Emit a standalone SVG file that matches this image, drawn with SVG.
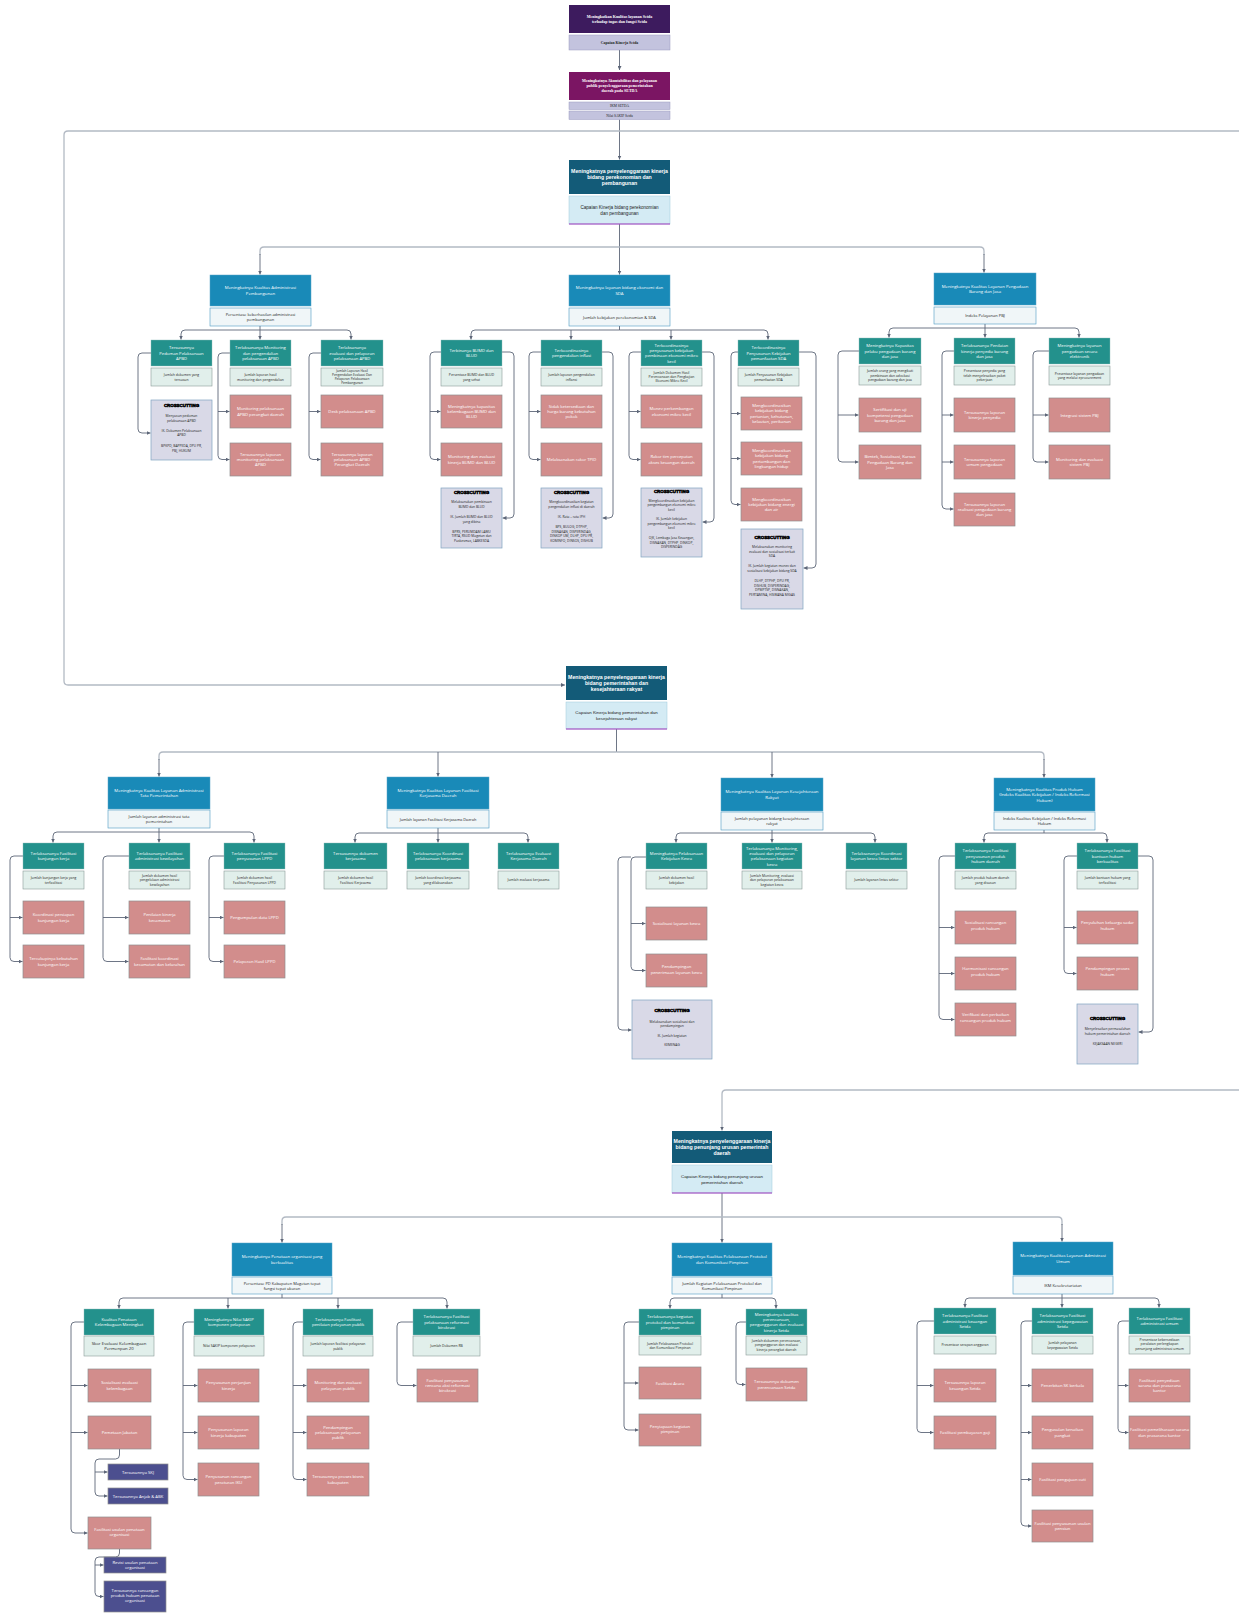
<svg xmlns="http://www.w3.org/2000/svg" width="1239" height="1623" viewBox="0 0 1239 1623">
<defs>
<marker id="ar" viewBox="0 0 6 6" refX="6" refY="3" markerWidth="4" markerHeight="4" markerUnits="userSpaceOnUse" orient="auto"><path d="M0,0 L6,3 L0,6 z" fill="#5d6678"/></marker>
<style>
.c{fill:none;stroke:#5d6678;stroke-width:0.9}
.cl{fill:none;stroke:#b3bac4;stroke-width:1.3}
.t1{fill:#3d1b5e}
.t2{fill:#7b1563}
.lav{fill:#c3c3de;stroke:#9a9ac0;stroke-width:0.5}
.m{fill:#135b78}
.ml{fill:#d4ebf4;stroke:#9ec9dc;stroke-width:0.5}
.pl{stroke:#a23bbd;stroke-width:1}
.l2{fill:#198ab8;stroke:#5aa5c8;stroke-width:0.5}
.l2l{fill:#f0f6f8;stroke:#4e9cc4;stroke-width:0.6}
.l3{fill:#23918c;stroke:#8fbcb9;stroke-width:0.4}
.l3l{fill:#e1efeb;stroke:#8a9a98;stroke-width:0.6}
.pk{fill:#d28d8c;stroke:#8f8f8f;stroke-width:0.7}
.cc{fill:#d9d9e7;stroke:#7fa3c0;stroke-width:0.7}
.ind{fill:#4c4f8f;stroke:#8f8f8f;stroke-width:0.7}
text{font-family:"Open Sans","Liberation Sans",sans-serif;text-anchor:middle}
.w{font-size:4.2px;fill:#fff}
.l2t{font-size:4.3px;fill:#fff}
.d{font-size:3.4px;fill:#1e1e1e}
.d2{font-size:4px;fill:#222}
.mb{font-family:"Liberation Sans",Arial,sans-serif;font-weight:bold;font-size:5.2px;fill:#fff}
.md{font-family:"Liberation Sans",Arial,sans-serif;font-size:4.6px;fill:#222}
.sb{font-family:"Liberation Serif",serif;font-weight:bold;font-size:4px;fill:#fff}
.sd{font-family:"Liberation Serif",serif;font-weight:bold;font-size:3.8px;fill:#222}
.ch{font-family:"Liberation Sans",Arial,sans-serif;font-weight:900;font-size:4.4px;fill:#000;stroke:#000;stroke-width:0.5}
.cd{font-size:3.3px;fill:#222}
.wi{font-size:4.2px;fill:#fff}
</style>
</defs>
<rect width="1239" height="1623" fill="#fff"/>

<g id="connectors">
<path class="c" d="M619.5 50 V70" marker-end="url(#ar)"/>
<path class="c" d="M619.5 119.5 V159.5" marker-end="url(#ar)"/>
<path class="cl" d="M1239 131 H68 Q64 131 64 135 V681 Q64 685 68 685 H565" marker-end="url(#ar)"/>
<path class="cl" d="M1239 1090 H726 Q722 1090 722 1094 V1130.5" marker-end="url(#ar)"/>
<!-- block 1 -->
<path class="c" d="M619.5 224 V274.5" marker-end="url(#ar)"/>
<path class="cl" d="M619.5 247 H264 Q260 247 260 251 V255"/>
<path class="cl" d="M619.5 247 H980 Q984 247 984 251 V255"/>
<path class="c" d="M260 254 V274.5" marker-end="url(#ar)"/>
<path class="c" d="M984 254 V272.5" marker-end="url(#ar)"/>
<path class="c" d="M260 326 V339.5" marker-end="url(#ar)"/>
<path class="c" d="M260 330 H185 Q181 330 181 334 V339.5" marker-end="url(#ar)"/>
<path class="c" d="M260 330 H347 Q351 330 351 334 V339.5" marker-end="url(#ar)"/>
<path class="c" d="M151 353 H142 Q138 353 138 357 V429 Q138 433 142 433 H150.5" marker-end="url(#ar)"/>
<path class="c" d="M230 353 H222 Q218 353 218 357 V455.5 Q218 459.5 222 459.5 H229.5" marker-end="url(#ar)"/>
<path class="c" d="M218 411.5 H229.5" marker-end="url(#ar)"/>
<path class="c" d="M321 353 H313 Q309 353 309 357 V455.5 Q309 459.5 313 459.5 H320.5" marker-end="url(#ar)"/>
<path class="c" d="M309 411.5 H320.5" marker-end="url(#ar)"/>
<path class="c" d="M619.5 326 V330 H475 Q471 330 471 334 V339.5" marker-end="url(#ar)"/>
<path class="c" d="M619.5 330 H764 Q768 330 768 334 V339.5" marker-end="url(#ar)"/>
<path class="c" d="M571 330 V339.5" marker-end="url(#ar)"/>
<path class="c" d="M671 330 V339.5" marker-end="url(#ar)"/>
<path class="c" d="M441 352 H434 Q430 352 430 356 V455.5 Q430 459.5 434 459.5 H440.5" marker-end="url(#ar)"/>
<path class="c" d="M430 411.5 H440.5" marker-end="url(#ar)"/>
<path class="c" d="M502 352 H510 Q514 352 514 356 V514 Q514 518 510 518 H502.5" marker-end="url(#ar)"/>
<path class="c" d="M541 352 H533 Q529 352 529 356 V455.5 Q529 459.5 533 459.5 H540.5" marker-end="url(#ar)"/>
<path class="c" d="M529 411.5 H540.5" marker-end="url(#ar)"/>
<path class="c" d="M602 352 H609 Q613 352 613 356 V514 Q613 518 609 518 H602.5" marker-end="url(#ar)"/>
<path class="c" d="M641 352 H633 Q629 352 629 356 V455.5 Q629 459.5 633 459.5 H640.5" marker-end="url(#ar)"/>
<path class="c" d="M629 411.5 H640.5" marker-end="url(#ar)"/>
<path class="c" d="M702 352 H710 Q714 352 714 356 V518 Q714 522 710 522 H702.5" marker-end="url(#ar)"/>
<path class="c" d="M738 352 H735 Q731 352 731 356 V500.5 Q731 504.5 735 504.5 H740.5" marker-end="url(#ar)"/>
<path class="c" d="M731 413.5 H740.5" marker-end="url(#ar)"/>
<path class="c" d="M731 458.5 H740.5" marker-end="url(#ar)"/>
<path class="c" d="M799 352 H812 Q816 352 816 356 V564 Q816 568 812 568 H803.5" marker-end="url(#ar)"/>
<path class="c" d="M985 324 V337.5" marker-end="url(#ar)"/>
<path class="c" d="M985 328 H893 Q889 328 889 332 V337.5" marker-end="url(#ar)"/>
<path class="c" d="M985 328 H1075 Q1079 328 1079 332 V337.5" marker-end="url(#ar)"/>
<path class="c" d="M859 351 H842 Q838 351 838 355 V458 Q838 462 842 462 H858.5" marker-end="url(#ar)"/>
<path class="c" d="M838 415 H858.5" marker-end="url(#ar)"/>
<path class="c" d="M954 351 H946 Q942 351 942 355 V505 Q942 509 946 509 H953.5" marker-end="url(#ar)"/>
<path class="c" d="M942 415 H953.5" marker-end="url(#ar)"/>
<path class="c" d="M942 462 H953.5" marker-end="url(#ar)"/>
<path class="c" d="M1049 351 H1037 Q1033 351 1033 355 V458 Q1033 462 1037 462 H1048.5" marker-end="url(#ar)"/>
<path class="c" d="M1033 415 H1048.5" marker-end="url(#ar)"/>
<!-- block 2 -->
<path class="c" d="M616.5 729 V752"/>
<path class="cl" d="M616.5 752 H163 Q159 752 159 756 V760"/>
<path class="cl" d="M616.5 752 H1040 Q1044 752 1044 756 V760"/>
<path class="c" d="M159 759 V776.5" marker-end="url(#ar)"/>
<path class="c" d="M438 752 V776.5" marker-end="url(#ar)"/>
<path class="c" d="M772 752 V777.5" marker-end="url(#ar)"/>
<path class="c" d="M1044 759 V777.5" marker-end="url(#ar)"/>
<path class="c" d="M159 828 V842.5" marker-end="url(#ar)"/>
<path class="c" d="M159 832 H57 Q53 832 53 836 V842.5" marker-end="url(#ar)"/>
<path class="c" d="M159 832 H250 Q254 832 254 836 V842.5" marker-end="url(#ar)"/>
<path class="c" d="M23 856 H14 Q10 856 10 860 V957.5 Q10 961.5 14 961.5 H22.5" marker-end="url(#ar)"/>
<path class="c" d="M10 917.5 H22.5" marker-end="url(#ar)"/>
<path class="c" d="M129 856 H107 Q103 856 103 860 V957.5 Q103 961.5 107 961.5 H128.5" marker-end="url(#ar)"/>
<path class="c" d="M103 917.5 H128.5" marker-end="url(#ar)"/>
<path class="c" d="M224 856 H213 Q209 856 209 860 V957.5 Q209 961.5 213 961.5 H223.5" marker-end="url(#ar)"/>
<path class="c" d="M209 917.5 H223.5" marker-end="url(#ar)"/>
<path class="c" d="M438 828 V842.5" marker-end="url(#ar)"/>
<path class="c" d="M438 833 H359 Q355 833 355 837 V842.5" marker-end="url(#ar)"/>
<path class="c" d="M438 833 H524 Q528 833 528 837 V842.5" marker-end="url(#ar)"/>
<path class="c" d="M772 830 V842.5" marker-end="url(#ar)"/>
<path class="c" d="M772 833 H680 Q676 833 676 837 V842.5" marker-end="url(#ar)"/>
<path class="c" d="M772 833 H871 Q875 833 875 837 V842.5" marker-end="url(#ar)"/>
<path class="c" d="M646 857 H635 Q631 857 631 861 V966.5 Q631 970.5 635 970.5 H645.5" marker-end="url(#ar)"/>
<path class="c" d="M631 923.5 H645.5" marker-end="url(#ar)"/>
<path class="c" d="M631 857 H622 Q618 857 618 861 V1026 Q618 1030 622 1030 H631.5" marker-end="url(#ar)"/>
<path class="c" d="M1044 829 V833 H988 Q984 833 984 837 V842.5" marker-end="url(#ar)"/>
<path class="c" d="M1044 833 H1103 Q1107 833 1107 837 V842.5" marker-end="url(#ar)"/>
<path class="c" d="M955 856 H943 Q939 856 939 860 V1015.5 Q939 1019.5 943 1019.5 H954.5" marker-end="url(#ar)"/>
<path class="c" d="M939 927.5 H954.5" marker-end="url(#ar)"/>
<path class="c" d="M939 973.5 H954.5" marker-end="url(#ar)"/>
<path class="c" d="M1077 856 H1068 Q1064 856 1064 860 V969.5 Q1064 973.5 1068 973.5 H1076.5" marker-end="url(#ar)"/>
<path class="c" d="M1064 927.5 H1076.5" marker-end="url(#ar)"/>
<path class="c" d="M1138 856 H1149 Q1153 856 1153 860 V1028 Q1153 1032 1149 1032 H1138.5" marker-end="url(#ar)"/>
<!-- block 3 -->
<path class="c" d="M722 1193 V1242.5" marker-end="url(#ar)"/>
<path class="cl" d="M722 1217 H286 Q282 1217 282 1221 V1225"/>
<path class="cl" d="M722 1217 H1058 Q1062 1217 1062 1221 V1225"/>
<path class="c" d="M282 1224 V1242.5" marker-end="url(#ar)"/>
<path class="c" d="M1062 1224 V1241.5" marker-end="url(#ar)"/>
<path class="c" d="M282 1294 V1298 H123 Q119 1298 119 1302 V1308.5" marker-end="url(#ar)"/>
<path class="c" d="M282 1298 H443 Q447 1298 447 1302 V1308.5" marker-end="url(#ar)"/>
<path class="c" d="M228 1298 V1308.5" marker-end="url(#ar)"/>
<path class="c" d="M338 1298 V1308.5" marker-end="url(#ar)"/>
<path class="c" d="M84 1322 H75 Q71 1322 71 1326 V1529 Q71 1533 75 1533 H87.5" marker-end="url(#ar)"/>
<path class="c" d="M71 1385.5 H87.5" marker-end="url(#ar)"/>
<path class="c" d="M71 1432.5 H87.5" marker-end="url(#ar)"/>
<path class="c" d="M119.5 1449 V1455 Q119.5 1459 115.5 1459 H99 Q95 1459 95 1463 V1492 Q95 1496 99 1496 H107.5" marker-end="url(#ar)"/>
<path class="c" d="M95 1472 H107.5" marker-end="url(#ar)"/>
<path class="c" d="M119.5 1549 V1553 Q119.5 1557 115.5 1557 H99 Q95 1557 95 1561 V1592.5 Q95 1596.5 99 1596.5 H103.5" marker-end="url(#ar)"/>
<path class="c" d="M95 1565 H103.5" marker-end="url(#ar)"/>
<path class="c" d="M194 1322 H187 Q183 1322 183 1326 V1475.5 Q183 1479.5 187 1479.5 H197.5" marker-end="url(#ar)"/>
<path class="c" d="M183 1385.5 H197.5" marker-end="url(#ar)"/>
<path class="c" d="M183 1432.5 H197.5" marker-end="url(#ar)"/>
<path class="c" d="M303 1322 H297 Q293 1322 293 1326 V1475.5 Q293 1479.5 297 1479.5 H306.5" marker-end="url(#ar)"/>
<path class="c" d="M293 1385.5 H306.5" marker-end="url(#ar)"/>
<path class="c" d="M293 1432.5 H306.5" marker-end="url(#ar)"/>
<path class="c" d="M413 1322 H401 Q397 1322 397 1326 V1381.5 Q397 1385.5 401 1385.5 H416.5" marker-end="url(#ar)"/>
<path class="c" d="M722 1294 V1298 H674 Q670 1298 670 1302 V1308.5" marker-end="url(#ar)"/>
<path class="c" d="M722 1298 H772 Q776 1298 776 1302 V1308.5" marker-end="url(#ar)"/>
<path class="c" d="M639 1322 H628 Q624 1322 624 1326 V1426 Q624 1430 628 1430 H638.5" marker-end="url(#ar)"/>
<path class="c" d="M624 1383 H638.5" marker-end="url(#ar)"/>
<path class="c" d="M746 1322 H740 Q736 1322 736 1326 V1380.5 Q736 1384.5 740 1384.5 H745.5" marker-end="url(#ar)"/>
<path class="c" d="M1062 1294 V1307.5" marker-end="url(#ar)"/>
<path class="c" d="M1062 1298 H969 Q965 1298 965 1302 V1307.5" marker-end="url(#ar)"/>
<path class="c" d="M1062 1298 H1155 Q1159 1298 1159 1302 V1307.5" marker-end="url(#ar)"/>
<path class="c" d="M934 1321 H921 Q917 1321 917 1325 V1428.5 Q917 1432.5 921 1432.5 H933.5" marker-end="url(#ar)"/>
<path class="c" d="M917 1385.5 H933.5" marker-end="url(#ar)"/>
<path class="c" d="M1032 1321 H1025 Q1021 1321 1021 1325 V1522 Q1021 1526 1025 1526 H1031.5" marker-end="url(#ar)"/>
<path class="c" d="M1021 1385.5 H1031.5" marker-end="url(#ar)"/>
<path class="c" d="M1021 1432.5 H1031.5" marker-end="url(#ar)"/>
<path class="c" d="M1021 1479.5 H1031.5" marker-end="url(#ar)"/>
<path class="c" d="M1129 1321 H1122 Q1118 1321 1118 1325 V1428.5 Q1118 1432.5 1122 1432.5 H1128.5" marker-end="url(#ar)"/>
<path class="c" d="M1118 1385.5 H1128.5" marker-end="url(#ar)"/>
</g>

<!-- TOP -->
<g id="top1">
<rect class="t1" x="569" y="5" width="101" height="28"/>
<text class="sb" x="619.5" y="17.7">Meningkatkan Kualitas layanan Setda<tspan x="619.5" dy="5.5">terhadap tugas dan fungsi Setda</tspan></text>
<rect class="lav" x="569" y="35" width="101" height="15"/>
<text class="sd" x="619.5" y="43.9">Capaian Kinerja Setda</text>
</g>
<g id="top2">
<rect class="t2" x="569" y="72" width="101" height="28"/>
<text class="sb" x="619.5" y="82.4">Meningkatnya Akuntabilitas dan pelayanan<tspan x="619.5" dy="5">publik penyelenggaraan pemerintahan</tspan><tspan x="619.5" dy="5">daerah pada SETDA</tspan></text>
<rect class="lav" x="569" y="102" width="101" height="7.5"/>
<text class="sd" x="619.5" y="107.2" style="font-size:3.5px;font-weight:normal">IKM SETDA</text>
<rect class="lav" x="569" y="111" width="101" height="8.5"/>
<text class="sd" x="619.5" y="116.5" style="font-size:3.5px;font-weight:normal">Nilai SAKIP Setda</text>
</g>

<!-- BLOCK 1 -->
<g id="main1">
<rect class="m" x="569" y="160" width="101" height="34"/>
<text class="mb" x="619.5" y="172.6">Meningkatnya penyelenggaraan kinerja<tspan x="619.5" dy="6.2">bidang perekonomian dan</tspan><tspan x="619.5" dy="6.2">pembangunan</tspan></text>
<rect class="ml" x="569" y="196" width="101" height="28"/>
<line class="pl" x1="569" y1="224" x2="670" y2="224"/>
<text class="md" x="619.5" y="208.9">Capaian Kinerja bidang perekonomian<tspan x="619.5" dy="5.6">dan pembangunan</tspan></text>
</g>
<g id="l2a">
<rect class="l2" x="210" y="275" width="101" height="31"/>
<text class="l2t" x="260.5" y="289.2">Meningkatnya Kualitas Administrasi<tspan x="260.5" dy="5.6">Pembangunan</tspan></text>
<rect class="l2l" x="210" y="308" width="101" height="18"/>
<text class="d2" x="260.5" y="316">Persentase keberhasilan administrasi<tspan x="260.5" dy="5">pembangunan</tspan></text>
</g>
<g id="l2b">
<rect class="l2" x="569" y="275" width="101" height="31"/>
<text class="l2t" x="619.5" y="289.2">Meningkatnya layanan bidang ekonomi dan<tspan x="619.5" dy="5.6">SDA</tspan></text>
<rect class="l2l" x="569" y="308" width="101" height="18"/>
<text class="d2" x="619.5" y="318.5">Jumlah kebijakan perekonomian &amp; SDA</text>
</g>
<g id="l2c">
<rect class="l2" x="934" y="273" width="102" height="32"/>
<text class="l2t" x="985" y="287.8">Meningkatnya Kualitas Layanan Pengadaan<tspan x="985" dy="5.6">Barang dan Jasa</tspan></text>
<rect class="l2l" x="934" y="307" width="102" height="17"/>
<text class="d2" x="985" y="317">Indeks Pelayanan PBJ</text>
</g>

<g id="a1">
<rect class="l3" x="151" y="340" width="61" height="26"/>
<text class="w" x="181.5" y="349.2">Tersusunnya<tspan x="181.5" dy="5.3">Pedoman Pelaksanaan</tspan><tspan x="181.5" dy="5.3">APBD</tspan></text>
<rect class="l3l" x="151" y="368" width="61" height="18"/>
<text class="d" x="181.5" y="376.1">Jumlah dokumen yang<tspan x="181.5" dy="4.4">tersusun</tspan></text>
</g>
<g id="a1cc">
<rect class="cc" x="151" y="400" width="61" height="60"/>
<text class="ch" x="181.5" y="406.5">CROSSCUTTING</text>
<text class="cd" x="181.5" y="417">Menyusun pedoman<tspan x="181.5" dy="4.5">pelaksanaan APBD</tspan><tspan x="181.5" dy="10">IK. Dokumen Pelaksanaan</tspan><tspan x="181.5" dy="4.5">APBD</tspan><tspan x="181.5" dy="11">BPKPD, BAPPEDA, DPU PR,</tspan><tspan x="181.5" dy="4.5">PBJ, HUKUM</tspan></text>
</g>
<g id="a2">
<rect class="l3" x="230" y="340" width="61" height="26"/>
<text class="w" x="260.5" y="349.2">Terlaksananya Monitoring<tspan x="260.5" dy="5.3">dan pengendalian</tspan><tspan x="260.5" dy="5.3">pelaksanaan APBD</tspan></text>
<rect class="l3l" x="230" y="368" width="61" height="18"/>
<text class="d" x="260.5" y="376.1">Jumlah laporan hasil<tspan x="260.5" dy="4.4">monitoring dan pengendalian</tspan></text>
</g>
<g id="a2p1"><rect class="pk" x="230" y="395" width="61" height="33"/><text class="w" x="260.5" y="410.3">Monitoring pelaksanaan<tspan x="260.5" dy="5.4">APBD perangkat daerah</tspan></text></g>
<g id="a2p2"><rect class="pk" x="230" y="443" width="61" height="33"/><text class="w" x="260.5" y="455.6">Tersusunnya laporan<tspan x="260.5" dy="5.4">monitoring pelaksanaan</tspan><tspan x="260.5" dy="5.4">APBD</tspan></text></g>
<g id="a3">
<rect class="l3" x="321" y="340" width="62" height="26"/>
<text class="w" x="352" y="349.2">Terlaksananya<tspan x="352" dy="5.3">evaluasi dan pelaporan</tspan><tspan x="352" dy="5.3">pelaksanaan APBD</tspan></text>
<rect class="l3l" x="321" y="368" width="62" height="18"/>
<text class="d" x="352" y="372.3" style="font-size:3.2px">Jumlah Laporan Hasil<tspan x="352" dy="3.9">Pengendalian Evaluasi Dan</tspan><tspan x="352" dy="3.9">Pelaporan Pelaksanaan</tspan><tspan x="352" dy="3.9">Pembangunan</tspan></text>
</g>
<g id="a3p1"><rect class="pk" x="321" y="395" width="62" height="33"/><text class="w" x="352" y="413">Desk pelaksanaan APBD</text></g>
<g id="a3p2"><rect class="pk" x="321" y="443" width="62" height="33"/><text class="w" x="352" y="455.6">Tersusunnya laporan<tspan x="352" dy="5.4">pelaksanaan APBD</tspan><tspan x="352" dy="5.4">Perangkat Daerah</tspan></text></g>

<g id="b1">
<rect class="l3" x="441" y="340" width="61" height="26"/>
<text class="w" x="471.5" y="351.9">Terbinanya BUMD dan<tspan x="471.5" dy="5.3">BLUD</tspan></text>
<rect class="l3l" x="441" y="368" width="61" height="18"/>
<text class="d" x="471.5" y="376.1">Persentase BUMD dan BLUD<tspan x="471.5" dy="4.4">yang sehat</tspan></text>
</g>
<g id="b1p1"><rect class="pk" x="441" y="395" width="61" height="33"/><text class="w" x="471.5" y="407.6">Meningkatnya kapasitas<tspan x="471.5" dy="5.4">kelembagaan BUMD dan</tspan><tspan x="471.5" dy="5.4">BLUD</tspan></text></g>
<g id="b1p2"><rect class="pk" x="441" y="443" width="61" height="33"/><text class="w" x="471.5" y="458.3">Monitoring dan evaluasi<tspan x="471.5" dy="5.4">kinerja BUMD dan BLUD</tspan></text></g>
<g id="b1cc">
<rect class="cc" x="441" y="488" width="61" height="60"/>
<text class="ch" x="471.5" y="494">CROSSCUTTING</text>
<text class="cd" x="471.5" y="503">Melaksanakan pembinaan<tspan x="471.5" dy="4.5">BUMD dan BLUD</tspan><tspan x="471.5" dy="10.5">IK. Jumlah BUMD dan BLUD</tspan><tspan x="471.5" dy="4.5">yang dibina</tspan><tspan x="471.5" dy="10">BPRS, PERUMDAM LAWU</tspan><tspan x="471.5" dy="4.5">TIRTA, RSUD Magetan dan</tspan><tspan x="471.5" dy="4.5">Puskesmas, LABKESDA</tspan></text>
</g>
<g id="b2">
<rect class="l3" x="541" y="340" width="61" height="26"/>
<text class="w" x="571.5" y="351.9">Terkoordinasinya<tspan x="571.5" dy="5.3">pengendalian inflasi</tspan></text>
<rect class="l3l" x="541" y="368" width="61" height="18"/>
<text class="d" x="571.5" y="376.1">Jumlah laporan pengendalian<tspan x="571.5" dy="4.4">inflansi</tspan></text>
</g>
<g id="b2p1"><rect class="pk" x="541" y="395" width="61" height="33"/><text class="w" x="571.5" y="407.6">Sidak ketersediaan dan<tspan x="571.5" dy="5.4">harga barang kebutuhan</tspan><tspan x="571.5" dy="5.4">pokok</tspan></text></g>
<g id="b2p2"><rect class="pk" x="541" y="443" width="61" height="33"/><text class="w" x="571.5" y="461">Melaksanakan rakor TPID</text></g>
<g id="b2cc">
<rect class="cc" x="541" y="488" width="61" height="60"/>
<text class="ch" x="571.5" y="494">CROSSCUTTING</text>
<text class="cd" x="571.5" y="503">Mengkoordinasikan kegiatan<tspan x="571.5" dy="4.5">pengendalian inflasi di daerah</tspan><tspan x="571.5" dy="10.5">IK. Rata – rata IPH</tspan><tspan x="571.5" dy="10">BPS, BULOG, DTPHP,</tspan><tspan x="571.5" dy="4.5">DISNAKAN, DISPERINDAG,</tspan><tspan x="571.5" dy="4.5">DINKOP UM, DLHP, DPU PR,</tspan><tspan x="571.5" dy="4.5">KOMINFO, DINSOS, DISHUB</tspan></text>
</g>
<g id="b3">
<rect class="l3" x="641" y="340" width="61" height="26"/>
<text class="w" x="671.5" y="346.6">Terkoordinasinya<tspan x="671.5" dy="5.3">penyusunan kebijakan</tspan><tspan x="671.5" dy="5.3">pembinaan ekonomi mikro</tspan><tspan x="671.5" dy="5.3">kecil</tspan></text>
<rect class="l3l" x="641" y="368" width="61" height="18"/>
<text class="d" x="671.5" y="373.5">Jumlah Dokumen Hasil<tspan x="671.5" dy="4.2">Perencanaan dan Pengkajian</tspan><tspan x="671.5" dy="4.2">Ekonomi Mikro Kecil</tspan></text>
</g>
<g id="b3p1"><rect class="pk" x="641" y="395" width="61" height="33"/><text class="w" x="671.5" y="410.3">Monev perkembangan<tspan x="671.5" dy="5.4">ekonomi mikro kecil</tspan></text></g>
<g id="b3p2"><rect class="pk" x="641" y="443" width="61" height="33"/><text class="w" x="671.5" y="458.3">Rakor tim percepatan<tspan x="671.5" dy="5.4">akses keuangan daerah</tspan></text></g>
<g id="b3cc">
<rect class="cc" x="641" y="488" width="61" height="69"/>
<text class="ch" x="671.5" y="493">CROSSCUTTING</text>
<text class="cd" x="671.5" y="501.5">Mengkoordinasikan kebijakan<tspan x="671.5" dy="4.5">pengembangan ekonomi mikro</tspan><tspan x="671.5" dy="4.5">kecil</tspan><tspan x="671.5" dy="9.5">IK. Jumlah kebijakan</tspan><tspan x="671.5" dy="4.5">pengembangan ekonomi mikro</tspan><tspan x="671.5" dy="4.5">kecil</tspan><tspan x="671.5" dy="10">OJK, Lembaga Jasa Keuangan,</tspan><tspan x="671.5" dy="4.5">DISNAKAN, DTPHP, DINKOP,</tspan><tspan x="671.5" dy="4.5">DISPERINDAG</tspan></text>
</g>
<g id="b4">
<rect class="l3" x="738" y="340" width="61" height="26"/>
<text class="w" x="768.5" y="349.2">Terkoordinasinya<tspan x="768.5" dy="5.3">Penyusunan Kebijakan</tspan><tspan x="768.5" dy="5.3">pemanfaatan SDA</tspan></text>
<rect class="l3l" x="738" y="368" width="61" height="18"/>
<text class="d" x="768.5" y="376.1">Jumlah Penyusunan Kebijakan<tspan x="768.5" dy="4.4">pemanfaatan SDA</tspan></text>
</g>
<g id="b4p1"><rect class="pk" x="741" y="397" width="61" height="33"/><text class="w" x="771.5" y="406.9">Mengkoordinasikan<tspan x="771.5" dy="5.4">kebijakan bidang</tspan><tspan x="771.5" dy="5.4">pertanian, kehutanan,</tspan><tspan x="771.5" dy="5.4">kelautan, perikanan</tspan></text></g>
<g id="b4p2"><rect class="pk" x="741" y="442" width="61" height="33"/><text class="w" x="771.5" y="451.9">Mengkoordinasikan<tspan x="771.5" dy="5.4">kebijakan bidang</tspan><tspan x="771.5" dy="5.4">pertambangan dan</tspan><tspan x="771.5" dy="5.4">lingkungan hidup</tspan></text></g>
<g id="b4p3"><rect class="pk" x="741" y="488" width="61" height="33"/><text class="w" x="771.5" y="500.6">Mengkoordinasikan<tspan x="771.5" dy="5.4">kebijakan bidang energi</tspan><tspan x="771.5" dy="5.4">dan air</tspan></text></g>
<g id="b4cc">
<rect class="cc" x="741" y="529" width="62" height="80"/>
<text class="ch" x="772" y="538.5">CROSSCUTTING</text>
<text class="cd" x="772" y="548">Melaksanakan monitoring<tspan x="772" dy="4.5">evaluasi dan sosialisasi terkait</tspan><tspan x="772" dy="4.5">SDA</tspan><tspan x="772" dy="10">IK. Jumlah kegiatan monev dan</tspan><tspan x="772" dy="4.5">sosialisasi kebijakan bidang SDA</tspan><tspan x="772" dy="10.5">DLHP, DTPHP, DPU PR,</tspan><tspan x="772" dy="4.5">DISHUB, DISPERINDAG,</tspan><tspan x="772" dy="4.5">DPMPTSP, DISNAKAN,</tspan><tspan x="772" dy="4.5">PERTAMINA, HISWANA MIGAS</tspan></text>
</g>

<g id="c1">
<rect class="l3" x="859" y="338" width="62" height="26"/>
<text class="w" x="890" y="347.2">Meningkatnya Kapasitas<tspan x="890" dy="5.3">pelaku pengadaan barang</tspan><tspan x="890" dy="5.3">dan jasa</tspan></text>
<rect class="l3l" x="859" y="366" width="62" height="19"/>
<text class="d" x="890" y="372.4">Jumlah orang yang mengikuti<tspan x="890" dy="4.4">pembinaan dan advokasi</tspan><tspan x="890" dy="4.4">pengadaan barang dan jasa</tspan></text>
</g>
<g id="c1p1"><rect class="pk" x="859" y="398" width="62" height="34"/><text class="w" x="890" y="411.1">Sertifikasi dan uji<tspan x="890" dy="5.4">kompetensi pengadaan</tspan><tspan x="890" dy="5.4">barang dan jasa</tspan></text></g>
<g id="c1p2"><rect class="pk" x="859" y="445" width="62" height="34"/><text class="w" x="890" y="458.1">Bimtek, Sosialisasi, Kursus<tspan x="890" dy="5.4">Pengadaan Barang dan</tspan><tspan x="890" dy="5.4">Jasa</tspan></text></g>
<g id="c2">
<rect class="l3" x="954" y="338" width="61" height="26"/>
<text class="w" x="984.5" y="347.2">Terlaksananya Penilaian<tspan x="984.5" dy="5.3">kinerja penyedia barang</tspan><tspan x="984.5" dy="5.3">dan jasa</tspan></text>
<rect class="l3l" x="954" y="366" width="61" height="19"/>
<text class="d" x="984.5" y="372.4">Presentase penyedia yang<tspan x="984.5" dy="4.4">telah menyelesaikan paket</tspan><tspan x="984.5" dy="4.4">pekerjaan</tspan></text>
</g>
<g id="c2p1"><rect class="pk" x="954" y="398" width="61" height="34"/><text class="w" x="984.5" y="413.8">Tersusunnya laporan<tspan x="984.5" dy="5.4">kinerja penyedia</tspan></text></g>
<g id="c2p2"><rect class="pk" x="954" y="445" width="61" height="34"/><text class="w" x="984.5" y="460.8">Tersusunnya laporan<tspan x="984.5" dy="5.4">umum pengadaan</tspan></text></g>
<g id="c2p3"><rect class="pk" x="954" y="493" width="61" height="33"/><text class="w" x="984.5" y="505.6">Tersusunnya laporan<tspan x="984.5" dy="5.4">realisasi pengadaan barang</tspan><tspan x="984.5" dy="5.4">dan jasa</tspan></text></g>
<g id="c3">
<rect class="l3" x="1049" y="338" width="61" height="26"/>
<text class="w" x="1079.5" y="347.2">Meningkatnya layanan<tspan x="1079.5" dy="5.3">pengadaan secara</tspan><tspan x="1079.5" dy="5.3">elektronik</tspan></text>
<rect class="l3l" x="1049" y="366" width="61" height="19"/>
<text class="d" x="1079.5" y="374.6">Presentase layanan pengadaan<tspan x="1079.5" dy="4.4">yang melalui eprocurement</tspan></text>
</g>
<g id="c3p1"><rect class="pk" x="1049" y="398" width="61" height="34"/><text class="w" x="1079.5" y="416.5">Integrasi sistem PBJ</text></g>
<g id="c3p2"><rect class="pk" x="1049" y="445" width="61" height="34"/><text class="w" x="1079.5" y="460.8">Monitoring dan evaluasi<tspan x="1079.5" dy="5.4">sistem PBJ</tspan></text></g>

<!-- BLOCK 2 -->
<g id="main2">
<rect class="m" x="566" y="666" width="101" height="34"/>
<text class="mb" x="616.5" y="678.6">Meningkatnya penyelenggaraan kinerja<tspan x="616.5" dy="6.2">bidang pemerintahan dan</tspan><tspan x="616.5" dy="6.2">kesejahteraan rakyat</tspan></text>
<rect class="ml" x="566" y="702" width="101" height="27"/>
<line class="pl" x1="566" y1="729" x2="667" y2="729"/>
<text class="md" x="616.5" y="714.3" style="font-size:4.4px">Capaian Kinerja bidang pemerintahan dan<tspan x="616.5" dy="5.6">kesejahteraan rakyat</tspan></text>
</g>
<g id="d">
<rect class="l2" x="108" y="777" width="102" height="32"/>
<text class="l2t" x="159" y="791.8">Meningkatnya Kualitas Layanan Administrasi<tspan x="159" dy="5.6">Tata Pemerintahan</tspan></text>
<rect class="l2l" x="108" y="810" width="102" height="18"/>
<text class="d2" x="159" y="818">Jumlah layanan administrasi tata<tspan x="159" dy="5">pemerintahan</tspan></text>
</g>
<g id="e">
<rect class="l2" x="387" y="777" width="102" height="32"/>
<text class="l2t" x="438" y="791.8">Meningkatnya Kualitas Layanan Fasilitasi<tspan x="438" dy="5.6">Kerjasama Daerah</tspan></text>
<rect class="l2l" x="387" y="810" width="102" height="18"/>
<text class="d2" x="438" y="820.5" style="font-size:3.8px">Jumlah layanan  Fasilitasi Kerjasama Daerah</text>
</g>
<g id="f">
<rect class="l2" x="721" y="778" width="102" height="33"/>
<text class="l2t" x="772" y="793.3">Meningkatnya Kualitas Layanan Kesejahteraan<tspan x="772" dy="5.6">Rakyat</tspan></text>
<rect class="l2l" x="721" y="812" width="102" height="18"/>
<text class="d2" x="772" y="820">Jumlah pelayanan bidang kesejahteraan<tspan x="772" dy="5">rakyat</tspan></text>
</g>
<g id="g">
<rect class="l2" x="994" y="778" width="101" height="33"/>
<text class="l2t" x="1044.5" y="790.5">Meningkatnya Kualitas Produk Hukum<tspan x="1044.5" dy="5.6">(Indeks Kualitas Kebijakan / Indeks Reformasi</tspan><tspan x="1044.5" dy="5.6">Hukum)</tspan></text>
<rect class="l2l" x="994" y="812" width="101" height="18"/>
<text class="d2" x="1044.5" y="820">Indeks Kualitas Kebijakan / Indeks Reformasi<tspan x="1044.5" dy="5">Hukum</tspan></text>
</g>

<g id="d1">
<rect class="l3" x="23" y="843" width="61" height="26"/>
<text class="w" x="53.5" y="854.9">Terlaksananya Fasilitasi<tspan x="53.5" dy="5.3">kunjungan kerja</tspan></text>
<rect class="l3l" x="23" y="871" width="61" height="18"/>
<text class="d" x="53.5" y="879.1">Jumlah kunjungan kerja yang<tspan x="53.5" dy="4.4">terfasilitasi</tspan></text>
</g>
<g id="d1p1"><rect class="pk" x="23" y="901" width="61" height="33"/><text class="w" x="53.5" y="916.3">Koordinasi persiapan<tspan x="53.5" dy="5.4">kunjungan kerja</tspan></text></g>
<g id="d1p2"><rect class="pk" x="23" y="945" width="61" height="33"/><text class="w" x="53.5" y="960.3">Tercukupinya kebutuhan<tspan x="53.5" dy="5.4">kunjungan kerja</tspan></text></g>
<g id="d2">
<rect class="l3" x="129" y="843" width="61" height="26"/>
<text class="w" x="159.5" y="854.9">Terlaksananya Fasilitasi<tspan x="159.5" dy="5.3">administrasi kewilayahan</tspan></text>
<rect class="l3l" x="129" y="871" width="61" height="18"/>
<text class="d" x="159.5" y="876.9">Jumlah dokumen hasil<tspan x="159.5" dy="4.4">pengelolaan administrasi</tspan><tspan x="159.5" dy="4.4">kewilayahan</tspan></text>
</g>
<g id="d2p1"><rect class="pk" x="129" y="901" width="61" height="33"/><text class="w" x="159.5" y="916.3">Penilaian kinerja<tspan x="159.5" dy="5.4">kecamatan</tspan></text></g>
<g id="d2p2"><rect class="pk" x="129" y="945" width="61" height="33"/><text class="w" x="159.5" y="960.3">Fasilitasi koordinasi<tspan x="159.5" dy="5.4">kecamatan dan kelurahan</tspan></text></g>
<g id="d3">
<rect class="l3" x="224" y="843" width="61" height="26"/>
<text class="w" x="254.5" y="854.9">Terlaksananya Fasilitasi<tspan x="254.5" dy="5.3">penyusunan LPPD</tspan></text>
<rect class="l3l" x="224" y="871" width="61" height="18"/>
<text class="d" x="254.5" y="879.1">Jumlah dokumen hasil<tspan x="254.5" dy="4.4">Fasilitasi Penyusunan LPPD</tspan></text>
</g>
<g id="d3p1"><rect class="pk" x="224" y="901" width="61" height="33"/><text class="w" x="254.5" y="919">Pengumpulan data LPPD</text></g>
<g id="d3p2"><rect class="pk" x="224" y="945" width="61" height="33"/><text class="w" x="254.5" y="963">Pelaporan Hasil LPPD</text></g>

<g id="e1">
<rect class="l3" x="324" y="843" width="63" height="26"/>
<text class="w" x="355.5" y="854.9">Tersusunnya dokumen<tspan x="355.5" dy="5.3">kerjasama</tspan></text>
<rect class="l3l" x="324" y="871" width="63" height="18"/>
<text class="d" x="355.5" y="879.1">Jumlah dokumen hasil<tspan x="355.5" dy="4.4">Fasilitasi Kerjasama</tspan></text>
</g>
<g id="e2">
<rect class="l3" x="407" y="843" width="62" height="26"/>
<text class="w" x="438" y="854.9">Terlaksananya Koordinasi<tspan x="438" dy="5.3">pelaksanaan kerjasama</tspan></text>
<rect class="l3l" x="407" y="871" width="62" height="18"/>
<text class="d" x="438" y="879.1">Jumlah koordinasi kerjasama<tspan x="438" dy="4.4">yang dilaksanakan</tspan></text>
</g>
<g id="e3">
<rect class="l3" x="498" y="843" width="61" height="26"/>
<text class="w" x="528.5" y="854.9">Terlaksananya Evaluasi<tspan x="528.5" dy="5.3">Kerjasama Daerah</tspan></text>
<rect class="l3l" x="498" y="871" width="61" height="18"/>
<text class="d" x="528.5" y="881.3">Jumlah evaluasi kerjasama</text>
</g>

<g id="f1">
<rect class="l3" x="646" y="843" width="61" height="26"/>
<text class="w" x="676.5" y="854.9">Meningkatnya Pelaksanaan<tspan x="676.5" dy="5.3">Kebijakan Kesra</tspan></text>
<rect class="l3l" x="646" y="871" width="61" height="18"/>
<text class="d" x="676.5" y="879.1">Jumlah dokumen hasil<tspan x="676.5" dy="4.4">kebijakan</tspan></text>
</g>
<g id="f1p1"><rect class="pk" x="646" y="907" width="61" height="33"/><text class="w" x="676.5" y="925">Sosialisasi layanan kesra</text></g>
<g id="f1p2"><rect class="pk" x="646" y="954" width="61" height="33"/><text class="w" x="676.5" y="968.3">Pendampingan<tspan x="676.5" dy="5.4">penerimaan layanan kesra</tspan></text></g>
<g id="f1cc">
<rect class="cc" x="632" y="1000" width="80" height="59"/>
<text class="ch" x="672" y="1012">CROSSCUTTING</text>
<text class="cd" x="672" y="1022.5">Melaksanakan sosialisasi dan<tspan x="672" dy="4.5">pendampingan</tspan><tspan x="672" dy="9.5">IK. Jumlah kegiatan</tspan><tspan x="672" dy="9.5">KEMENAG</tspan></text>
</g>
<g id="f2">
<rect class="l3" x="742" y="843" width="60" height="26"/>
<text class="w" x="772" y="849.6">Terlaksananya Monitoring,<tspan x="772" dy="5.3">evaluasi dan pelaporan</tspan><tspan x="772" dy="5.3">pelaksanaan kegiatan</tspan><tspan x="772" dy="5.3">kesra</tspan></text>
<rect class="l3l" x="742" y="871" width="60" height="18"/>
<text class="d" x="772" y="876.9">Jumlah Monitoring, evaluasi<tspan x="772" dy="4.4">dan pelaporan pelaksanaan</tspan><tspan x="772" dy="4.4">kegiatan kesra</tspan></text>
</g>
<g id="f3">
<rect class="l3" x="846" y="843" width="61" height="26"/>
<text class="w" x="876.5" y="854.9">Terlaksananya Koordinasi<tspan x="876.5" dy="5.3">layanan kesra lintas sektor</tspan></text>
<rect class="l3l" x="846" y="871" width="61" height="18"/>
<text class="d" x="876.5" y="881.3">Jumlah layanan lintas sektor</text>
</g>

<g id="g1">
<rect class="l3" x="955" y="843" width="61" height="26"/>
<text class="w" x="985.5" y="852.2">Terlaksananya Fasilitasi<tspan x="985.5" dy="5.3">penyusunan produk</tspan><tspan x="985.5" dy="5.3">hukum daerah</tspan></text>
<rect class="l3l" x="955" y="871" width="61" height="18"/>
<text class="d" x="985.5" y="879.1">Jumlah produk hukum daerah<tspan x="985.5" dy="4.4">yang disusun</tspan></text>
</g>
<g id="g1p1"><rect class="pk" x="955" y="911" width="61" height="33"/><text class="w" x="985.5" y="924.3">Sosialisasi rancangan<tspan x="985.5" dy="5.4">produk hukum</tspan></text></g>
<g id="g1p2"><rect class="pk" x="955" y="957" width="61" height="33"/><text class="w" x="985.5" y="970.3">Harmonisasi rancangan<tspan x="985.5" dy="5.4">produk hukum</tspan></text></g>
<g id="g1p3"><rect class="pk" x="955" y="1003" width="61" height="33"/><text class="w" x="985.5" y="1016.3">Verifikasi dan perbaikan<tspan x="985.5" dy="5.4">rancangan produk hukum</tspan></text></g>
<g id="g2">
<rect class="l3" x="1077" y="843" width="61" height="26"/>
<text class="w" x="1107.5" y="852.2">Terlaksananya Fasilitasi<tspan x="1107.5" dy="5.3">bantuan hukum</tspan><tspan x="1107.5" dy="5.3">berkualitas</tspan></text>
<rect class="l3l" x="1077" y="871" width="61" height="18"/>
<text class="d" x="1107.5" y="879.1">Jumlah bantuan hukum yang<tspan x="1107.5" dy="4.4">terfasilitasi</tspan></text>
</g>
<g id="g2p1"><rect class="pk" x="1077" y="911" width="61" height="33"/><text class="w" x="1107.5" y="924.3">Penyuluhan keluarga sadar<tspan x="1107.5" dy="5.4">hukum</tspan></text></g>
<g id="g2p2"><rect class="pk" x="1077" y="957" width="61" height="33"/><text class="w" x="1107.5" y="970.3">Pendampingan proses<tspan x="1107.5" dy="5.4">hukum</tspan></text></g>
<g id="g2cc">
<rect class="cc" x="1077" y="1004" width="61" height="60"/>
<text class="ch" x="1107.5" y="1020">CROSSCUTTING</text>
<text class="cd" x="1107.5" y="1030">Menyelesaikan permasalahan<tspan x="1107.5" dy="4.5">hukum pemerintahan daerah</tspan><tspan x="1107.5" dy="10.5">KEJAKSAAN NEGERI</tspan></text>
</g>

<!-- BLOCK 3 -->
<g id="main3">
<rect class="m" x="672" y="1131" width="100" height="32"/>
<text class="mb" x="722" y="1142.6">Meningkatnya penyelenggaraan kinerja<tspan x="722" dy="6.2">bidang penunjang urusan pemerintah</tspan><tspan x="722" dy="6.2">daerah</tspan></text>
<rect class="ml" x="672" y="1165" width="100" height="28"/>
<line class="pl" x1="672" y1="1193" x2="772" y2="1193"/>
<text class="md" x="722" y="1177.9" style="font-size:4.4px">Capaian Kinerja bidang penunjang urusan<tspan x="722" dy="5.6">pemerintahan daerah</tspan></text>
</g>
<g id="h">
<rect class="l2" x="232" y="1243" width="100" height="33"/>
<text class="l2t" x="282" y="1258.2">Meningkatnya Penataan organisasi yang<tspan x="282" dy="5.6">berkualitas</tspan></text>
<rect class="l2l" x="232" y="1277" width="100" height="17"/>
<text class="d2" x="282" y="1284.5">Persentase PD Kabupaten Magetan tepat<tspan x="282" dy="5">fungsi tepat ukuran</tspan></text>
</g>
<g id="i">
<rect class="l2" x="672" y="1243" width="100" height="33"/>
<text class="l2t" x="722" y="1258.2">Meningkatnya Kualitas Pelaksanaan Protokol<tspan x="722" dy="5.6">dan Komunikasi Pimpinan</tspan></text>
<rect class="l2l" x="672" y="1277" width="100" height="17"/>
<text class="d2" x="722" y="1284.5">Jumlah Kegiatan Pelaksanaan Protokol dan<tspan x="722" dy="5">Komunikasi Pimpinan</tspan></text>
</g>
<g id="j">
<rect class="l2" x="1013" y="1242" width="100" height="33"/>
<text class="l2t" x="1063" y="1257.2">Meningkatnya Kualitas Layanan Admistrasi<tspan x="1063" dy="5.6">Umum</tspan></text>
<rect class="l2l" x="1013" y="1276" width="100" height="18"/>
<text class="d2" x="1063" y="1286.5">IKM Kesekretariatan</text>
</g>

<g id="h1">
<rect class="l3" x="84" y="1309" width="70" height="26"/>
<text class="w" x="119" y="1320.9">Kualitas Penataan<tspan x="119" dy="5.3">Kelembagaan Meningkat</tspan></text>
<rect class="l3l" x="84" y="1336" width="70" height="20"/>
<text class="d2" x="119" y="1344.6" style="font-size:4.3px">Skor Evaluasi Kelembagaan<tspan x="119" dy="5.2">Permenpan 20</tspan></text>
</g>
<g id="h1p1"><rect class="pk" x="88" y="1369" width="63" height="33"/><text class="w" x="119.5" y="1384.3">Sosialisasi evaluasi<tspan x="119.5" dy="5.4">kelembagaan</tspan></text></g>
<g id="h1p2"><rect class="pk" x="88" y="1416" width="63" height="33"/><text class="w" x="119.5" y="1434">Pemetaan Jabatan</text></g>
<g id="h1s1"><rect class="ind" x="108" y="1464" width="60" height="16"/><text class="wi" x="138" y="1473.5">Tersusunnya SKJ</text></g>
<g id="h1s2"><rect class="ind" x="108" y="1488" width="60" height="16"/><text class="wi" x="138" y="1497.5">Tersusunnya Anjab &amp; ABK</text></g>
<g id="h1p3"><rect class="pk" x="88" y="1517" width="63" height="32"/><text class="w" x="119.5" y="1530.8">Fasilitasi usulan penataan<tspan x="119.5" dy="5.4">organisasi</tspan></text></g>
<g id="h1s3"><rect class="ind" x="104" y="1557" width="62" height="16"/><text class="wi" x="135" y="1564">Revisi usulan penataan<tspan x="135" dy="5">organisasi</tspan></text></g>
<g id="h1s4"><rect class="ind" x="104" y="1581" width="62" height="31"/><text class="wi" x="135" y="1591.6">Tersusunnya rancangan<tspan x="135" dy="5.4">produk hukum penataan</tspan><tspan x="135" dy="5.4">organisasi</tspan></text></g>
<g id="h2">
<rect class="l3" x="194" y="1309" width="70" height="26"/>
<text class="w" x="229" y="1320.9">Meningkatnya Nilai SAKIP<tspan x="229" dy="5.3">komponen pelaporan</tspan></text>
<rect class="l3l" x="194" y="1336" width="70" height="20"/>
<text class="d" x="229" y="1347.3">Nilai SAKIP komponen pelaporan</text>
</g>
<g id="h2p1"><rect class="pk" x="198" y="1369" width="61" height="33"/><text class="w" x="228.5" y="1384.3">Penyusunan perjanjian<tspan x="228.5" dy="5.4">kinerja</tspan></text></g>
<g id="h2p2"><rect class="pk" x="198" y="1416" width="61" height="33"/><text class="w" x="228.5" y="1431.3">Penyusunan laporan<tspan x="228.5" dy="5.4">kinerja kabupaten</tspan></text></g>
<g id="h2p3"><rect class="pk" x="198" y="1463" width="61" height="33"/><text class="w" x="228.5" y="1478.3">Penyusunan rancangan<tspan x="228.5" dy="5.4">peraturan IKU</tspan></text></g>
<g id="h3">
<rect class="l3" x="303" y="1309" width="70" height="26"/>
<text class="w" x="338" y="1320.9">Terlaksananya Fasilitasi<tspan x="338" dy="5.3">penilaian pelayanan publik</tspan></text>
<rect class="l3l" x="303" y="1336" width="70" height="20"/>
<text class="d" x="338" y="1345.1">Jumlah laporan fasilitasi pelayanan<tspan x="338" dy="4.4">publik</tspan></text>
</g>
<g id="h3p1"><rect class="pk" x="307" y="1369" width="62" height="33"/><text class="w" x="338" y="1384.3">Monitoring dan evaluasi<tspan x="338" dy="5.4">pelayanan publik</tspan></text></g>
<g id="h3p2"><rect class="pk" x="307" y="1416" width="62" height="33"/><text class="w" x="338" y="1428.6">Pendampingan<tspan x="338" dy="5.4">pelaksanaan pelayanan</tspan><tspan x="338" dy="5.4">publik</tspan></text></g>
<g id="h3p3"><rect class="pk" x="307" y="1463" width="62" height="33"/><text class="w" x="338" y="1478.3">Tersusunnya proses bisnis<tspan x="338" dy="5.4">kabupaten</tspan></text></g>
<g id="h4">
<rect class="l3" x="413" y="1309" width="67" height="26"/>
<text class="w" x="446.5" y="1318.2">Terlaksananya Fasilitasi<tspan x="446.5" dy="5.3">pelaksanaan reformasi</tspan><tspan x="446.5" dy="5.3">birokrasi</tspan></text>
<rect class="l3l" x="413" y="1336" width="67" height="20"/>
<text class="d" x="446.5" y="1347.3">Jumlah Dokumen RB</text>
</g>
<g id="h4p1"><rect class="pk" x="417" y="1369" width="61" height="33"/><text class="w" x="447.5" y="1381.6">Fasilitasi penyusunan<tspan x="447.5" dy="5.4">rencana aksi reformasi</tspan><tspan x="447.5" dy="5.4">birokrasi</tspan></text></g>

<g id="i1">
<rect class="l3" x="639" y="1309" width="62" height="26"/>
<text class="w" x="670" y="1318.2">Terlaksananya kegiatan<tspan x="670" dy="5.3">protokol dan komunikasi</tspan><tspan x="670" dy="5.3">pimpinan</tspan></text>
<rect class="l3l" x="639" y="1336" width="62" height="19"/>
<text class="d" x="670" y="1344.6">Jumlah Pelaksanaan Protokol<tspan x="670" dy="4.4">dan Komunikasi Pimpinan</tspan></text>
</g>
<g id="i1p1"><rect class="pk" x="639" y="1367" width="62" height="32"/><text class="w" x="670" y="1384.5">Fasilitasi Acara</text></g>
<g id="i1p2"><rect class="pk" x="639" y="1414" width="62" height="32"/><text class="w" x="670" y="1427.8">Penyiapaan kegiatan<tspan x="670" dy="5.4">pimpinan</tspan></text></g>
<g id="i2">
<rect class="l3" x="746" y="1309" width="61" height="26"/>
<text class="w" x="776.5" y="1315.6">Meningkatnya kualitas<tspan x="776.5" dy="5.3">perencanaan,</tspan><tspan x="776.5" dy="5.3">penganggaran dan evaluasi</tspan><tspan x="776.5" dy="5.3">kinerja Setda</tspan></text>
<rect class="l3l" x="746" y="1336" width="61" height="19"/>
<text class="d" x="776.5" y="1341.9">Jumlah dokumen perencanaan,<tspan x="776.5" dy="4.4">penganggaran dan evaluasi</tspan><tspan x="776.5" dy="4.4">kinerja perangkat daerah</tspan></text>
</g>
<g id="i2p1"><rect class="pk" x="746" y="1368" width="61" height="33"/><text class="w" x="776.5" y="1383.3">Tersusunnya dokumen<tspan x="776.5" dy="5.4">perencanaan Setda</tspan></text></g>

<g id="j1">
<rect class="l3" x="934" y="1308" width="62" height="26"/>
<text class="w" x="965" y="1317.2">Terlaksananya Fasilitasi<tspan x="965" dy="5.3">administrasi keuangan</tspan><tspan x="965" dy="5.3">Setda</tspan></text>
<rect class="l3l" x="934" y="1336" width="62" height="18"/>
<text class="d" x="965" y="1346.3">Presentase serapan anggaran</text>
</g>
<g id="j1p1"><rect class="pk" x="934" y="1369" width="62" height="33"/><text class="w" x="965" y="1384.3">Tersusunnya laporan<tspan x="965" dy="5.4">keuangan Setda</tspan></text></g>
<g id="j1p2"><rect class="pk" x="934" y="1416" width="62" height="33"/><text class="w" x="965" y="1434">Fasilitasi pembayaran gaji</text></g>
<g id="j2">
<rect class="l3" x="1032" y="1308" width="61" height="26"/>
<text class="w" x="1062.5" y="1317.2">Terlaksananya Fasilitasi<tspan x="1062.5" dy="5.3">administrasi kepegawaian</tspan><tspan x="1062.5" dy="5.3">Setda</tspan></text>
<rect class="l3l" x="1032" y="1336" width="61" height="18"/>
<text class="d" x="1062.5" y="1344.1">Jumlah pelayanan<tspan x="1062.5" dy="4.4">kepegawaian Setda</tspan></text>
</g>
<g id="j2p1"><rect class="pk" x="1032" y="1369" width="61" height="33"/><text class="w" x="1062.5" y="1387">Penerbitan SK berkala</text></g>
<g id="j2p2"><rect class="pk" x="1032" y="1416" width="61" height="33"/><text class="w" x="1062.5" y="1431.3">Pengusulan kenaikan<tspan x="1062.5" dy="5.4">pangkat</tspan></text></g>
<g id="j2p3"><rect class="pk" x="1032" y="1463" width="61" height="33"/><text class="w" x="1062.5" y="1481">Fasilitasi pengajuan cuti</text></g>
<g id="j2p4"><rect class="pk" x="1032" y="1510" width="61" height="32"/><text class="w" x="1062.5" y="1524.8">Fasilitasi penyusunan usulan<tspan x="1062.5" dy="5.4">pensiun</tspan></text></g>
<g id="j3">
<rect class="l3" x="1129" y="1308" width="61" height="26"/>
<text class="w" x="1159.5" y="1319.9">Terlaksananya Fasilitasi<tspan x="1159.5" dy="5.3">administrasi umum</tspan></text>
<rect class="l3l" x="1129" y="1336" width="61" height="18"/>
<text class="d" x="1159.5" y="1340.9">Presentase kebersediaan<tspan x="1159.5" dy="4.4">peralatan perlengkapan</tspan><tspan x="1159.5" dy="4.4">penunjang administrasi umum</tspan></text>
</g>
<g id="j3p1"><rect class="pk" x="1129" y="1369" width="61" height="33"/><text class="w" x="1159.5" y="1381.6">Fasilitasi penyediaan<tspan x="1159.5" dy="5.4">sarana dan prasarana</tspan><tspan x="1159.5" dy="5.4">kantor</tspan></text></g>
<g id="j3p2"><rect class="pk" x="1129" y="1416" width="61" height="33"/><text class="w" x="1159.5" y="1431.3">Fasilitasi pemeliharaan sarana<tspan x="1159.5" dy="5.4">dan prasarana kantor</tspan></text></g>
</svg>
